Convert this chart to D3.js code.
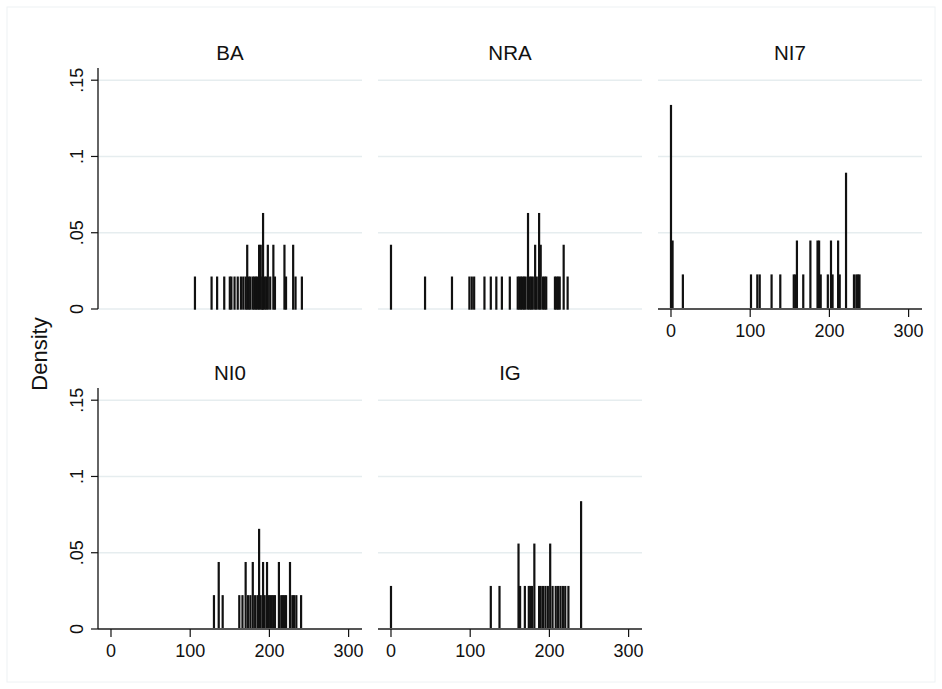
<!DOCTYPE html>
<html>
<head>
<meta charset="utf-8">
<script src="https://cdn.jsdelivr.net/npm/d3@7"></script>
<style>
  body { margin: 0; background: #fff; }
  svg { display: block; font-family: "Liberation Sans", Arial, sans-serif; }
  .grid { stroke: #e6edef; stroke-width: 1.5; }
  .bar { fill: #111; stroke: #111; stroke-width: 1.4; }
</style>
</head>
<body>
<svg id="chart" width="942" height="689"></svg>
<script>
// panels, in the order Stata lays them out
const groups = ["BA", "NRA", "NI7", "NI0", "IG"];
const groupN = [48, 48, 45, 46, 36];

// discrete histogram: value -> number of observations
const baValues = [106, 127, 134, 143, 150, 152, 156, 160, 164, 167, 170, 172, 174, 176, 179, 181, 183, 185, 187, 189, 191, 192, 194, 196, 198, 201, 205, 207, 219, 221, 230, 233, 241];
const baCounts = [1, 1, 1, 1, 1, 1, 1, 1, 1, 1, 1, 2, 1, 1, 1, 1, 1, 1, 2, 2, 1, 3, 1, 1, 2, 1, 2, 1, 2, 1, 2, 1, 1];

const nraValues = [0, 43, 77, 99, 102, 105, 118, 126, 133, 140, 150, 160, 162, 164, 166, 168, 170, 173, 175, 177, 179, 182, 184, 187, 189, 192, 194, 196, 207, 209, 211, 213, 218, 223];
const nraCounts = [2, 1, 1, 1, 1, 1, 1, 1, 1, 1, 1, 1, 1, 1, 1, 1, 1, 3, 1, 1, 1, 2, 1, 3, 2, 1, 1, 1, 1, 1, 1, 1, 2, 1];

const ni7Values = [0, 2, 15, 101, 109, 112, 127, 138, 155, 157, 159, 167, 176, 185, 187, 189, 198, 202, 204, 211, 213, 221, 231, 234, 236, 238];
const ni7Counts = [6, 2, 1, 1, 1, 1, 1, 1, 1, 1, 2, 1, 2, 2, 2, 1, 1, 2, 1, 2, 1, 4, 1, 1, 1, 1];

const ni0Values = [130, 136, 141, 162, 166, 170, 173, 176, 179, 182, 185, 187, 189, 192, 194, 197, 199, 201, 203, 205, 207, 212, 215, 217, 219, 221, 226, 229, 231, 234, 240];
const ni0Counts = [1, 2, 1, 1, 1, 2, 1, 1, 2, 1, 1, 3, 1, 2, 1, 2, 1, 1, 1, 1, 1, 2, 1, 1, 1, 1, 2, 1, 1, 1, 1];

const igValues = [0, 126, 137, 161, 163, 169, 174, 176, 178, 181, 187, 189, 192, 195, 198, 201, 204, 208, 211, 214, 217, 220, 224, 240];
const igCounts = [1, 1, 1, 2, 1, 1, 1, 1, 1, 2, 1, 1, 1, 1, 1, 2, 1, 1, 1, 1, 1, 1, 1, 3];

const xTicks = [0, 100, 200, 300];
const yTicks = [0, 0.05, 0.1, 0.15];
const yTickLabels = ["0", ".05", ".1", ".15"];

const panelValues = [baValues, nraValues, ni7Values, ni0Values, igValues];
const panelCounts = [baCounts, nraCounts, ni7Counts, ni0Counts, igCounts];

const svg = d3.select("#chart");
const W = 942, H = 689;

svg.append("rect").attr("width", W).attr("height", H).attr("fill", "#fff");
svg.append("rect")
    .attr("x", 7).attr("y", 7).attr("width", W - 14).attr("height", H - 14)
    .attr("fill", "none").attr("stroke", "#eef2f4").attr("stroke-width", 1);

// panel geometry
const pw = 264, ph = 241;
const left0 = 98, top0 = 68, colStep = 280, rowStep = 320;
const nCols = 3;

const x = d3.scaleLinear().domain([-16.4, 316.9]).range([0, pw]);
const y = d3.scaleLinear().domain([0, 0.158]).range([ph, 0]);

groups.forEach(function (name, i) {
    let col = i % nCols, row = Math.floor(i / nCols);
    let g = svg.append("g")
        .attr("transform", "translate(" + (left0 + col * colStep) + "," + (top0 + row * rowStep) + ")");

    // is this the lowest panel in its column?
    let bottomOfCol = (i + nCols >= groups.length);
    let leftCol = (col === 0);

    // gridlines
    g.selectAll(".grid")
        .data(yTicks.filter(function (t) { return bottomOfCol ? t > 0 : true; }))
        .enter()
        .append("line")
        .attr("class", "grid")
        .attr("x1", 0).attr("x2", pw)
        .attr("y1", function (d) { return y(d); })
        .attr("y2", function (d) { return y(d); });

    // bars
    let N = groupN[i];
    let data = panelValues[i].map(function (v, k) {
        return { v: v, d: panelCounts[i][k] / N };
    });
    g.selectAll(".bar")
        .data(data)
        .enter()
        .append("rect")
        .attr("class", "bar")
        .attr("x", function (d) { return x(d.v - 0.5); })
        .attr("width", function (d) { return x(d.v + 0.5) - x(d.v - 0.5); })
        .attr("y", function (d) { return y(d.d); })
        .attr("height", function (d) { return y(0) - y(d.d); });

    // title
    g.append("text")
        .attr("x", pw / 2).attr("y", -8)
        .attr("text-anchor", "middle")
        .attr("font-size", 20.5)
        .attr("fill", "#111")
        .text(name);

    // x axis
    if (bottomOfCol) {
        let ax = g.append("g").attr("transform", "translate(0," + ph + ")");
        ax.append("line")
            .attr("x1", 0).attr("x2", pw)
            .attr("stroke", "#555").attr("stroke-width", 2);
        ax.selectAll(".xt")
            .data(xTicks)
            .enter()
            .append("line")
            .attr("x1", function (d) { return x(d); })
            .attr("x2", function (d) { return x(d); })
            .attr("y1", 0).attr("y2", 8)
            .attr("stroke", "#111").attr("stroke-width", 1.2);
        ax.selectAll(".xl")
            .data(xTicks)
            .enter()
            .append("text")
            .attr("x", function (d) { return x(d); })
            .attr("y", 28)
            .attr("text-anchor", "middle")
            .attr("font-size", 18)
            .attr("fill", "#111")
            .text(function (d) { return d; });
    }

    // y axis
    if (leftCol) {
        g.append("line")
            .attr("x1", 0).attr("x2", 0)
            .attr("y1", 0).attr("y2", ph)
            .attr("stroke", "#111").attr("stroke-width", 1.3);
        g.selectAll(".yt")
            .data(yTicks)
            .enter()
            .append("line")
            .attr("x1", -7).attr("x2", 0)
            .attr("y1", function (d) { return y(d); })
            .attr("y2", function (d) { return y(d); })
            .attr("stroke", "#111").attr("stroke-width", 1.2);
        g.selectAll(".yl")
            .data(yTicks)
            .enter()
            .append("text")
            .attr("transform", function (d) { return "translate(-15," + y(d) + ") rotate(-90)"; })
            .attr("text-anchor", "middle")
            .attr("font-size", 18)
            .attr("fill", "#111")
            .text(function (d, k) { return yTickLabels[k]; });
    }
});

// shared y title
svg.append("text")
    .attr("transform", "translate(47,354) rotate(-90)")
    .attr("text-anchor", "middle")
    .attr("font-size", 22)
    .attr("fill", "#111")
    .text("Density");
</script>
</body>
</html>
